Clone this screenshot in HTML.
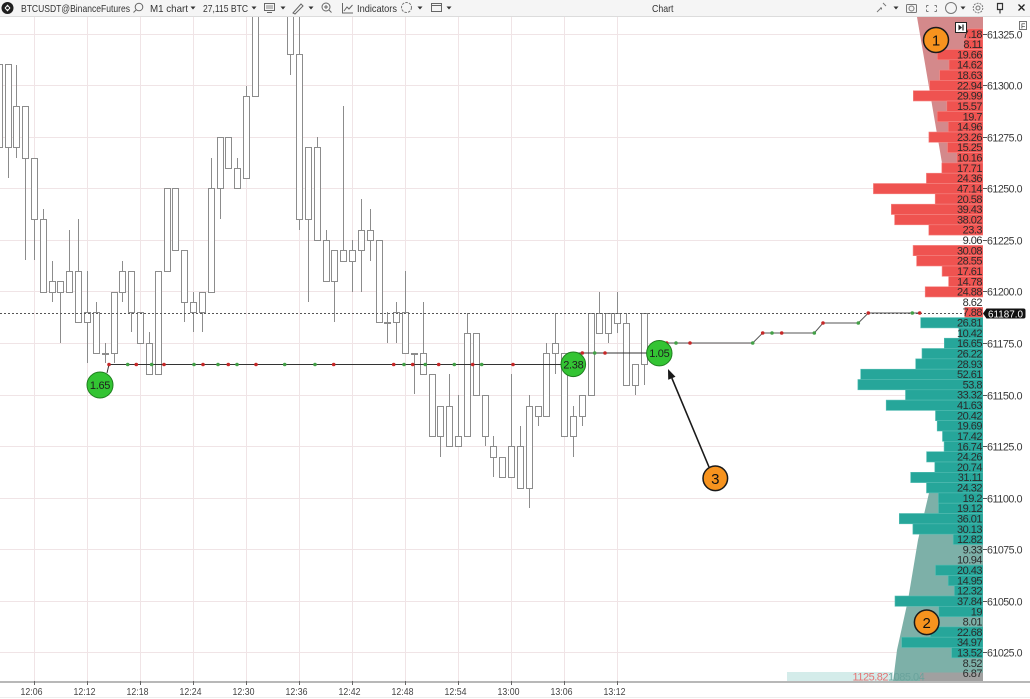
<!DOCTYPE html>
<html><head><meta charset="utf-8"><style>
html,body{margin:0;padding:0;background:#fff;width:1030px;height:699px;overflow:hidden}
svg{display:block;font-family:"Liberation Sans",Arial,sans-serif}
.pv{font-size:11px;letter-spacing:-0.5px;fill:#2b2b2b;text-anchor:end}
.pa{font-size:11px;letter-spacing:-0.5px;fill:#3a3a3a}
.tl{font-size:10.5px;fill:#444;text-anchor:middle}
.tb{font-size:10.5px;fill:#333}
</style></head><body>
<svg width="1030" height="699" viewBox="0 0 1030 699" xmlns="http://www.w3.org/2000/svg">
<rect width="1030" height="699" fill="#fff"/>
<!-- toolbar -->
<rect x="0" y="0" width="1030" height="16.5" fill="#f5f5f5"/>
<line x1="0" y1="16.5" x2="1030" y2="16.5" stroke="#dcdcdc"/>
<circle cx="7.5" cy="8" r="6" fill="#1f1f1f"/>
<path d="M4.5 8 L7.5 4.5 L10.5 8 L7.5 11.5 Z" fill="#fff"/>
<circle cx="7.5" cy="8" r="1.4" fill="#1f1f1f"/>
<text class="tb" x="21" y="12" textLength="109" lengthAdjust="spacingAndGlyphs">BTCUSDT@BinanceFutures</text>
<circle cx="139" cy="7" r="3.8" fill="none" stroke="#666" stroke-width="1"/>
<line x1="136.3" y1="9.7" x2="133.5" y2="12.5" stroke="#666"/>
<text class="tb" x="150" y="12" textLength="38" lengthAdjust="spacingAndGlyphs">M1 chart</text>
<g fill="#333">
<path d="M190.5 6.5h5l-2.5 3z"/><path d="M251.5 6.5h5l-2.5 3z"/><path d="M280.5 6.5h5l-2.5 3z"/>
<path d="M308.5 6.5h5l-2.5 3z"/><path d="M417.5 6.5h5l-2.5 3z"/><path d="M446.5 6.5h5l-2.5 3z"/>
<path d="M893.5 6.5h5l-2.5 3z"/><path d="M960.5 6.5h5l-2.5 3z"/>
</g>
<text class="tb" x="203" y="12" textLength="45" lengthAdjust="spacingAndGlyphs">27,115 BTC</text>
<rect x="264.5" y="3.5" width="10" height="7" fill="none" stroke="#666"/>
<line x1="267" y1="12.5" x2="272" y2="12.5" stroke="#666"/>
<line x1="266" y1="6" x2="273" y2="6" stroke="#888"/><line x1="266" y1="8" x2="273" y2="8" stroke="#888"/>
<path d="M293 13 L301 4 L303 6 L295 14 Z" fill="none" stroke="#666"/>
<circle cx="326" cy="7" r="4" fill="none" stroke="#666"/>
<line x1="324" y1="7" x2="328" y2="7" stroke="#666"/><line x1="326" y1="5" x2="326" y2="9" stroke="#666"/>
<line x1="329" y1="10" x2="331.5" y2="12.5" stroke="#666"/>
<path d="M342.5 3 V13 H353" fill="none" stroke="#666"/>
<path d="M344 11 L347 7 L349 9 L352.5 5" fill="none" stroke="#666"/>
<text class="tb" x="357" y="12" textLength="40" lengthAdjust="spacingAndGlyphs">Indicators</text>
<circle cx="406.5" cy="7.5" r="5" fill="none" stroke="#777" stroke-dasharray="2.5,1.2"/>
<rect x="431.5" y="3.5" width="10" height="8" fill="none" stroke="#666"/>
<line x1="431.5" y1="5.5" x2="441.5" y2="5.5" stroke="#666"/>
<text class="tb" x="652" y="12" textLength="21.5" lengthAdjust="spacingAndGlyphs" fill="#444">Chart</text>
<g stroke="#777" fill="none">
<path d="M877 12 L881 8 M880 8 h1.5 v1.5 M883 3 L886 6"/>
<circle cx="911.5" cy="8.5" r="2.5"/><rect x="906.5" y="4.5" width="10" height="8" rx="1"/>
<path d="M926.5 5.5 l2 0 M926.5 5.5 l0 2 M936.5 5.5 l-2 0 M936.5 5.5 l0 2 M926.5 11.5 l2 0 M926.5 11.5 l0 -2 M936.5 11.5 l-2 0 M936.5 11.5 l0 -2"/>
<circle cx="951" cy="8" r="5.5"/>
<circle cx="978" cy="8" r="4.8" stroke-dasharray="2,1"/><circle cx="978" cy="8" r="2"/>
</g>
<path d="M997.5 3.5 h5 v6 h-5 z M1000 9.5 v4" fill="none" stroke="#333" stroke-width="1.2"/>
<path d="M1018.5 4.5 l6 6 M1024.5 4.5 l-6 6" stroke="#222" stroke-width="1.3"/>

<defs><clipPath id="ca"><rect x="0" y="17" width="983" height="665"/></clipPath></defs>
<g clip-path="url(#ca)">
<!-- grid -->
<g stroke="#f0e4e6" stroke-width="1">
<line x1="0" x2="983" y1="34.5" y2="34.5"/><line x1="0" x2="983" y1="85.5" y2="85.5"/><line x1="0" x2="983" y1="137.5" y2="137.5"/>
<line x1="0" x2="983" y1="188.5" y2="188.5"/><line x1="0" x2="983" y1="240.5" y2="240.5"/><line x1="0" x2="983" y1="291.5" y2="291.5"/>
<line x1="0" x2="983" y1="343.5" y2="343.5"/><line x1="0" x2="983" y1="395.5" y2="395.5"/><line x1="0" x2="983" y1="446.5" y2="446.5"/>
<line x1="0" x2="983" y1="498.5" y2="498.5"/><line x1="0" x2="983" y1="549.5" y2="549.5"/><line x1="0" x2="983" y1="601.5" y2="601.5"/>
<line x1="0" x2="983" y1="652.5" y2="652.5"/>
<line y1="17" y2="682" x1="34.5" x2="34.5"/><line y1="17" y2="682" x1="87.5" x2="87.5"/><line y1="17" y2="682" x1="140.5" x2="140.5"/>
<line y1="17" y2="682" x1="193.5" x2="193.5"/><line y1="17" y2="682" x1="246.5" x2="246.5"/><line y1="17" y2="682" x1="299.5" x2="299.5"/>
<line y1="17" y2="682" x1="352.5" x2="352.5"/><line y1="17" y2="682" x1="405.5" x2="405.5"/><line y1="17" y2="682" x1="458.5" x2="458.5"/>
<line y1="17" y2="682" x1="511.5" x2="511.5"/><line y1="17" y2="682" x1="564.5" x2="564.5"/><line y1="17" y2="682" x1="617.5" x2="617.5"/>
</g>
<!-- profile backgrounds -->
<polygon points="917,17 983,17 983,163 942,163" fill="#d4898b"/>
<polygon points="929,493 983,493 983,682 893,682 897,650 908,600 918,540" fill="#7db0a8"/>
<!-- candles -->
<g stroke="#8c8c8c" stroke-width="1" fill="#fff">
<line x1="-0.5" y1="54" x2="-0.5" y2="157"/><rect x="-3.5" y="64.5" width="6" height="83"/>
<line x1="8.5" y1="64" x2="8.5" y2="178"/><rect x="5.5" y="64.5" width="6" height="83"/>
<line x1="16.5" y1="65" x2="16.5" y2="158"/><rect x="13.5" y="106.5" width="6" height="41"/>
<line x1="25.5" y1="106" x2="25.5" y2="260"/><rect x="22.5" y="106.5" width="6" height="52"/>
<line x1="34.5" y1="158" x2="34.5" y2="260"/><rect x="31.5" y="158.5" width="6" height="61"/>
<line x1="43.5" y1="209" x2="43.5" y2="292"/><rect x="40.5" y="219.5" width="6" height="73"/>
<line x1="52.5" y1="261" x2="52.5" y2="302"/><rect x="49.5" y="281.5" width="6" height="11"/>
<line x1="60.5" y1="281" x2="60.5" y2="343"/><rect x="57.5" y="281.5" width="6" height="11"/>
<line x1="69.5" y1="230" x2="69.5" y2="292"/><rect x="66.5" y="271.5" width="6" height="21"/>
<line x1="78.5" y1="219" x2="78.5" y2="322"/><rect x="75.5" y="271.5" width="6" height="51"/>
<line x1="87.5" y1="271" x2="87.5" y2="363"/><rect x="84.5" y="312.5" width="6" height="10"/>
<line x1="96.5" y1="302" x2="96.5" y2="353"/><rect x="93.5" y="312.5" width="6" height="41"/>
<line x1="105.5" y1="343" x2="105.5" y2="363"/><rect x="102.5" y="353.5" width="6" height="1"/>
<line x1="114.5" y1="292" x2="114.5" y2="363"/><rect x="111.5" y="292.5" width="6" height="61"/>
<line x1="122.5" y1="261" x2="122.5" y2="302"/><rect x="119.5" y="271.5" width="6" height="21"/>
<line x1="131.5" y1="271" x2="131.5" y2="332"/><rect x="128.5" y="271.5" width="6" height="41"/>
<rect x="137.5" y="312.5" width="6" height="31"/>
<line x1="149.5" y1="332" x2="149.5" y2="374"/><rect x="146.5" y="343.5" width="6" height="31"/>
<rect x="155.5" y="271.5" width="6" height="103"/>
<rect x="164.5" y="188.5" width="6" height="83"/>
<rect x="172.5" y="188.5" width="6" height="62"/>
<line x1="184.5" y1="250" x2="184.5" y2="322"/><rect x="181.5" y="250.5" width="6" height="52"/>
<line x1="193.5" y1="292" x2="193.5" y2="332"/><rect x="190.5" y="302.5" width="6" height="10"/>
<line x1="202.5" y1="292" x2="202.5" y2="332"/><rect x="199.5" y="292.5" width="6" height="20"/>
<line x1="211.5" y1="158" x2="211.5" y2="292"/><rect x="208.5" y="188.5" width="6" height="104"/>
<line x1="220.5" y1="137" x2="220.5" y2="219"/><rect x="217.5" y="137.5" width="6" height="51"/>
<rect x="225.5" y="137.5" width="6" height="31"/>
<line x1="237.5" y1="158" x2="237.5" y2="188"/><rect x="234.5" y="168.5" width="6" height="20"/>
<line x1="246.5" y1="86" x2="246.5" y2="178"/><rect x="243.5" y="96.5" width="6" height="82"/>
<rect x="252.5" y="5.5" width="6" height="91"/>
<line x1="290.5" y1="5" x2="290.5" y2="75"/><rect x="287.5" y="5.5" width="6" height="49"/>
<line x1="299.5" y1="5" x2="299.5" y2="230"/><rect x="296.5" y="54.5" width="6" height="165"/>
<line x1="308.5" y1="147" x2="308.5" y2="302"/><rect x="305.5" y="147.5" width="6" height="72"/>
<line x1="317.5" y1="137" x2="317.5" y2="240"/><rect x="314.5" y="147.5" width="6" height="93"/>
<line x1="326.5" y1="230" x2="326.5" y2="281"/><rect x="323.5" y="240.5" width="6" height="41"/>
<line x1="334.5" y1="250" x2="334.5" y2="322"/><rect x="331.5" y="250.5" width="6" height="31"/>
<line x1="343.5" y1="106" x2="343.5" y2="261"/><rect x="340.5" y="250.5" width="6" height="11"/>
<line x1="352.5" y1="240" x2="352.5" y2="292"/><rect x="349.5" y="250.5" width="6" height="11"/>
<line x1="361.5" y1="199" x2="361.5" y2="292"/><rect x="358.5" y="230.5" width="6" height="20"/>
<line x1="370.5" y1="209" x2="370.5" y2="261"/><rect x="367.5" y="230.5" width="6" height="10"/>
<rect x="376.5" y="240.5" width="6" height="82"/>
<line x1="387.5" y1="312" x2="387.5" y2="343"/><rect x="384.5" y="322.5" width="6" height="1"/>
<line x1="396.5" y1="302" x2="396.5" y2="343"/><rect x="393.5" y="312.5" width="6" height="10"/>
<line x1="405.5" y1="271" x2="405.5" y2="353"/><rect x="402.5" y="312.5" width="6" height="41"/>
<line x1="414.5" y1="353" x2="414.5" y2="394"/><rect x="411.5" y="353.5" width="6" height="1"/>
<line x1="423.5" y1="302" x2="423.5" y2="374"/><rect x="420.5" y="353.5" width="6" height="21"/>
<rect x="429.5" y="374.5" width="6" height="62"/>
<line x1="440.5" y1="406" x2="440.5" y2="457"/><rect x="437.5" y="406.5" width="6" height="30"/>
<line x1="449.5" y1="374" x2="449.5" y2="446"/><rect x="446.5" y="406.5" width="6" height="40"/>
<line x1="458.5" y1="395" x2="458.5" y2="446"/><rect x="455.5" y="436.5" width="6" height="10"/>
<line x1="467.5" y1="313" x2="467.5" y2="436"/><rect x="464.5" y="333.5" width="6" height="103"/>
<rect x="473.5" y="333.5" width="6" height="62"/>
<line x1="485.5" y1="395" x2="485.5" y2="446"/><rect x="482.5" y="395.5" width="6" height="41"/>
<line x1="493.5" y1="436" x2="493.5" y2="477"/><rect x="490.5" y="446.5" width="6" height="11"/>
<rect x="499.5" y="457.5" width="6" height="20"/>
<line x1="511.5" y1="374" x2="511.5" y2="477"/><rect x="508.5" y="446.5" width="6" height="31"/>
<line x1="520.5" y1="426" x2="520.5" y2="488"/><rect x="517.5" y="446.5" width="6" height="42"/>
<line x1="529.5" y1="395" x2="529.5" y2="508"/><rect x="526.5" y="406.5" width="6" height="82"/>
<line x1="538.5" y1="406" x2="538.5" y2="426"/><rect x="535.5" y="406.5" width="6" height="10"/>
<line x1="546.5" y1="343" x2="546.5" y2="416"/><rect x="543.5" y="353.5" width="6" height="63"/>
<line x1="555.5" y1="313" x2="555.5" y2="374"/><rect x="552.5" y="343.5" width="6" height="10"/>
<rect x="561.5" y="353.5" width="6" height="83"/>
<line x1="573.5" y1="406" x2="573.5" y2="457"/><rect x="570.5" y="416.5" width="6" height="20"/>
<line x1="582.5" y1="395" x2="582.5" y2="426"/><rect x="579.5" y="395.5" width="6" height="21"/>
<rect x="588.5" y="313.5" width="6" height="82"/>
<line x1="599.5" y1="292" x2="599.5" y2="333"/><rect x="596.5" y="313.5" width="6" height="20"/>
<line x1="608.5" y1="313" x2="608.5" y2="343"/><rect x="605.5" y="313.5" width="6" height="20"/>
<line x1="617.5" y1="292" x2="617.5" y2="333"/><rect x="614.5" y="313.5" width="6" height="10"/>
<line x1="626.5" y1="313" x2="626.5" y2="385"/><rect x="623.5" y="323.5" width="6" height="62"/>
<line x1="635.5" y1="364" x2="635.5" y2="395"/><rect x="632.5" y="364.5" width="6" height="21"/>
<line x1="644.5" y1="313" x2="644.5" y2="385"/><rect x="641.5" y="313.5" width="6" height="51"/>
</g>
<!-- current price dotted line -->
<line x1="0" y1="313.5" x2="983" y2="313.5" stroke="#555" stroke-width="1" stroke-dasharray="2,2"/>
<!-- profile bars -->
<g fill="#ef5350" stroke="#f58784" stroke-width="0.6">
<rect x="966.3" y="28.85" width="16.7" height="10.3"/>
<rect x="964.1" y="39.2" width="18.9" height="10.3"/>
<rect x="937.3" y="49.5" width="45.7" height="10.3"/>
<rect x="949" y="59.8" width="34" height="10.3"/>
<rect x="939.7" y="70.1" width="43.3" height="10.3"/>
<rect x="929.7" y="80.4" width="53.3" height="10.3"/>
<rect x="913.3" y="90.7" width="69.7" height="10.3"/>
<rect x="946.8" y="101" width="36.2" height="10.3"/>
<rect x="937.2" y="111.35" width="45.8" height="10.3"/>
<rect x="948.2" y="121.7" width="34.8" height="10.3"/>
<rect x="928.9" y="132" width="54.1" height="10.3"/>
<rect x="947.5" y="142.3" width="35.5" height="10.3"/>
<rect x="957" y="152.6" width="26" height="10.3"/>
<rect x="941.8" y="162.9" width="41.2" height="10.3"/>
<rect x="926.4" y="173.2" width="56.6" height="10.3"/>
<rect x="873.4" y="183.5" width="109.6" height="10.3"/>
<rect x="935.2" y="193.8" width="47.8" height="10.3"/>
<rect x="891.3" y="204.2" width="91.7" height="10.3"/>
<rect x="894.6" y="214.5" width="88.4" height="10.3"/>
<rect x="928.8" y="224.8" width="54.2" height="10.3"/>
<rect x="913.1" y="245.4" width="69.9" height="10.3"/>
<rect x="916.6" y="255.7" width="66.4" height="10.3"/>
<rect x="942.1" y="266" width="40.9" height="10.3"/>
<rect x="948.6" y="276.35" width="34.4" height="10.3"/>
<rect x="925.2" y="286.7" width="57.8" height="10.3"/>
<rect x="964.7" y="307.3" width="18.3" height="10.3"/>
</g>
<g fill="#26a69a" stroke="#55bdb3" stroke-width="0.6">
<rect x="920.7" y="317.6" width="62.3" height="10.3"/>
<rect x="958.8" y="327.9" width="24.2" height="10.3"/>
<rect x="944.3" y="338.2" width="38.7" height="10.3"/>
<rect x="922" y="348.5" width="61" height="10.3"/>
<rect x="915.7" y="358.85" width="67.3" height="10.3"/>
<rect x="860.7" y="369.2" width="122.3" height="10.3"/>
<rect x="857.9" y="379.5" width="125.1" height="10.3"/>
<rect x="905.5" y="389.8" width="77.5" height="10.3"/>
<rect x="886.2" y="400.1" width="96.8" height="10.3"/>
<rect x="935.5" y="410.4" width="47.5" height="10.3"/>
<rect x="937.2" y="420.7" width="45.8" height="10.3"/>
<rect x="942.5" y="431" width="40.5" height="10.3"/>
<rect x="944.1" y="441.35" width="38.9" height="10.3"/>
<rect x="926.6" y="451.7" width="56.4" height="10.3"/>
<rect x="934.8" y="462" width="48.2" height="10.3"/>
<rect x="910.7" y="472.3" width="72.3" height="10.3"/>
<rect x="926.5" y="482.6" width="56.5" height="10.3"/>
<rect x="938.4" y="492.9" width="44.6" height="10.3"/>
<rect x="938.5" y="503.2" width="44.5" height="10.3"/>
<rect x="899.3" y="513.5" width="83.7" height="10.3"/>
<rect x="912.9" y="523.85" width="70.1" height="10.3"/>
<rect x="953.2" y="534.2" width="29.8" height="10.3"/>
<rect x="935.5" y="565.1" width="47.5" height="10.3"/>
<rect x="948.2" y="575.4" width="34.8" height="10.3"/>
<rect x="954.4" y="585.7" width="28.6" height="10.3"/>
<rect x="895" y="596" width="88" height="10.3"/>
<rect x="938.8" y="606.35" width="44.2" height="10.3"/>
<rect x="930.3" y="626.9" width="52.7" height="10.3"/>
<rect x="901.7" y="637.2" width="81.3" height="10.3"/>
<rect x="951.6" y="647.5" width="31.4" height="10.3"/>
</g>
<!-- bottom summary strip -->
<rect x="787" y="672" width="106" height="10" fill="#d4ecea"/>
<rect x="920" y="672.5" width="63" height="9.5" fill="#a0a0a0"/>
<text x="888" y="680.5" font-size="11" letter-spacing="-0.5" fill="#e57373" text-anchor="end">1125.82</text>
<text x="888" y="680.5" font-size="11" letter-spacing="-0.5" fill="#6aa39c">1085.04</text>
<!-- step lines -->
<g stroke="#333" stroke-width="1" fill="none">
<line x1="107" y1="373" x2="109" y2="364.5"/>
<line x1="109" y1="364.5" x2="562" y2="364.5"/>
<line x1="573" y1="353" x2="648" y2="353"/>
</g>
<polyline points="659,343 752.7,343 762.7,333 814.3,333 823,323 858.3,323 868.3,313 919.7,313" fill="none" stroke="#555" stroke-width="1"/>
<g fill="#c62828">
<circle cx="109" cy="364.5" r="1.8"/><circle cx="136.3" cy="364.5" r="1.8"/><circle cx="164" cy="364.5" r="1.8"/>
<circle cx="203" cy="364.5" r="1.8"/><circle cx="228.3" cy="364.5" r="1.8"/><circle cx="256" cy="364.5" r="1.8"/>
<circle cx="333.7" cy="364.5" r="1.8"/><circle cx="393.7" cy="364.5" r="1.8"/><circle cx="412.7" cy="364.5" r="1.8"/>
<circle cx="438.7" cy="364.5" r="1.8"/><circle cx="472.7" cy="364.5" r="1.8"/><circle cx="513" cy="364.5" r="1.8"/>
<circle cx="582.3" cy="353" r="1.8"/><circle cx="605" cy="353" r="1.8"/>
<circle cx="666.7" cy="343" r="1.8"/><circle cx="690" cy="343" r="1.8"/>
<circle cx="762.7" cy="333" r="1.8"/><circle cx="781.7" cy="333" r="1.8"/>
<circle cx="823" cy="323" r="1.8"/><circle cx="868.3" cy="313" r="1.8"/><circle cx="919.7" cy="313" r="1.8"/>
</g>
<g fill="#43a047">
<circle cx="127.7" cy="364.5" r="1.8"/><circle cx="151.7" cy="364.5" r="1.8"/><circle cx="194" cy="364.5" r="1.8"/>
<circle cx="218" cy="364.5" r="1.8"/><circle cx="237" cy="364.5" r="1.8"/><circle cx="284.7" cy="364.5" r="1.8"/>
<circle cx="315" cy="364.5" r="1.8"/><circle cx="404" cy="364.5" r="1.8"/><circle cx="425.3" cy="364.5" r="1.8"/>
<circle cx="454.3" cy="364.5" r="1.8"/><circle cx="481.7" cy="364.5" r="1.8"/>
<circle cx="594.7" cy="353" r="1.8"/>
<circle cx="676" cy="343" r="1.8"/><circle cx="752.7" cy="343" r="1.8"/>
<circle cx="772" cy="333" r="1.8"/><circle cx="814.3" cy="333" r="1.8"/>
<circle cx="858.3" cy="323" r="1.8"/><circle cx="912.3" cy="313" r="1.8"/>
</g>
<!-- bubbles -->
<g fill="#33c433" stroke="#1f7f1f" stroke-width="1">
<circle cx="100" cy="385" r="13"/>
<circle cx="573.3" cy="364.3" r="12.3"/>
<circle cx="659.3" cy="353.2" r="12.7"/>
</g>
<g font-size="11" letter-spacing="-0.3" fill="#1e1e1e" text-anchor="middle">
<text x="100" y="389">1.65</text>
<text x="573.3" y="368.3">2.38</text>
<text x="659.3" y="357.2">1.05</text>
</g>
</g>
<!-- profile values -->
<g class="pv">
<text x="982" y="37.8" class="pv">7.18</text><text x="982" y="48.1" class="pv">8.11</text><text x="982" y="58.4" class="pv">19.66</text>
<text x="982" y="68.7" class="pv">14.62</text><text x="982" y="79.1" class="pv">18.63</text><text x="982" y="89.4" class="pv">22.94</text>
<text x="982" y="99.7" class="pv">29.99</text><text x="982" y="110" class="pv">15.57</text><text x="982" y="120.3" class="pv">19.7</text>
<text x="982" y="130.6" class="pv">14.96</text><text x="982" y="140.9" class="pv">23.26</text><text x="982" y="151.2" class="pv">15.25</text>
<text x="982" y="161.6" class="pv">10.16</text><text x="982" y="171.9" class="pv">17.71</text><text x="982" y="182.2" class="pv">24.36</text>
<text x="982" y="192.5" class="pv">47.14</text><text x="982" y="202.8" class="pv">20.58</text><text x="982" y="213.1" class="pv">39.43</text>
<text x="982" y="223.4" class="pv">38.02</text><text x="982" y="233.7" class="pv">23.3</text><text x="982" y="244.1" class="pv">9.06</text>
<text x="982" y="254.4" class="pv">30.08</text><text x="982" y="264.7" class="pv">28.55</text><text x="982" y="275" class="pv">17.61</text>
<text x="982" y="285.3" class="pv">14.78</text><text x="982" y="295.6" class="pv">24.88</text><text x="982" y="305.9" class="pv">8.62</text>
<text x="982" y="316.2" class="pv">7.88</text><text x="982" y="326.6" class="pv">26.81</text><text x="982" y="336.9" class="pv">10.42</text>
<text x="982" y="347.2" class="pv">16.65</text><text x="982" y="357.5" class="pv">26.22</text><text x="982" y="367.8" class="pv">28.93</text>
<text x="982" y="378.1" class="pv">52.61</text><text x="982" y="388.4" class="pv">53.8</text><text x="982" y="398.7" class="pv">33.32</text>
<text x="982" y="409.1" class="pv">41.63</text><text x="982" y="419.4" class="pv">20.42</text><text x="982" y="429.7" class="pv">19.69</text>
<text x="982" y="440" class="pv">17.42</text><text x="982" y="450.3" class="pv">16.74</text><text x="982" y="460.6" class="pv">24.26</text>
<text x="982" y="470.9" class="pv">20.74</text><text x="982" y="481.2" class="pv">31.11</text><text x="982" y="491.6" class="pv">24.32</text>
<text x="982" y="501.9" class="pv">19.2</text><text x="982" y="512.2" class="pv">19.12</text><text x="982" y="522.5" class="pv">36.01</text>
<text x="982" y="532.8" class="pv">30.13</text><text x="982" y="543.1" class="pv">12.82</text><text x="982" y="553.4" class="pv">9.33</text>
<text x="982" y="563.7" class="pv">10.94</text><text x="982" y="574.1" class="pv">20.43</text><text x="982" y="584.4" class="pv">14.95</text>
<text x="982" y="594.7" class="pv">12.32</text><text x="982" y="605" class="pv">37.84</text><text x="982" y="615.3" class="pv">19</text>
<text x="982" y="625.6" class="pv">8.01</text><text x="982" y="635.9" class="pv">22.68</text><text x="982" y="646.2" class="pv">34.97</text>
<text x="982" y="656.6" class="pv">13.52</text><text x="982" y="666.9" class="pv">8.52</text><text x="982" y="677.2" class="pv">6.87</text>
</g>
<!-- button -->
<rect x="955.5" y="22.5" width="11" height="10" fill="#fff" stroke="#222" stroke-width="1"/>
<path d="M958.5 24.5 L962 27.5 L958.5 30.5 Z" fill="#222"/><line x1="963" y1="24.5" x2="963" y2="30.5" stroke="#222" stroke-width="1.2"/>
<rect x="1019.5" y="21.5" width="7" height="8" fill="#fff" stroke="#555" stroke-width="0.8"/>
<text x="1021" y="28.3" font-size="7" fill="#333">F</text>
<!-- price axis -->
<g stroke="#555" stroke-width="1">
<line x1="983" x2="987" y1="34.5" y2="34.5"/><line x1="983" x2="987" y1="85.5" y2="85.5"/><line x1="983" x2="987" y1="137.5" y2="137.5"/>
<line x1="983" x2="987" y1="188.5" y2="188.5"/><line x1="983" x2="987" y1="240.5" y2="240.5"/><line x1="983" x2="987" y1="291.5" y2="291.5"/>
<line x1="983" x2="987" y1="343.5" y2="343.5"/><line x1="983" x2="987" y1="395.5" y2="395.5"/><line x1="983" x2="987" y1="446.5" y2="446.5"/>
<line x1="983" x2="987" y1="498.5" y2="498.5"/><line x1="983" x2="987" y1="549.5" y2="549.5"/><line x1="983" x2="987" y1="601.5" y2="601.5"/>
<line x1="983" x2="987" y1="652.5" y2="652.5"/>
</g>
<g class="pa">
<text x="987" y="38.5" textLength="35" lengthAdjust="spacingAndGlyphs">61325.0</text>
<text x="987" y="89.5" textLength="35" lengthAdjust="spacingAndGlyphs">61300.0</text>
<text x="987" y="141.5" textLength="35" lengthAdjust="spacingAndGlyphs">61275.0</text>
<text x="987" y="192.5" textLength="35" lengthAdjust="spacingAndGlyphs">61250.0</text>
<text x="987" y="244.5" textLength="35" lengthAdjust="spacingAndGlyphs">61225.0</text>
<text x="987" y="295.5" textLength="35" lengthAdjust="spacingAndGlyphs">61200.0</text>
<text x="987" y="347.5" textLength="35" lengthAdjust="spacingAndGlyphs">61175.0</text>
<text x="987" y="399.5" textLength="35" lengthAdjust="spacingAndGlyphs">61150.0</text>
<text x="987" y="450.5" textLength="35" lengthAdjust="spacingAndGlyphs">61125.0</text>
<text x="987" y="502.5" textLength="35" lengthAdjust="spacingAndGlyphs">61100.0</text>
<text x="987" y="553.5" textLength="35" lengthAdjust="spacingAndGlyphs">61075.0</text>
<text x="987" y="605.5" textLength="35" lengthAdjust="spacingAndGlyphs">61050.0</text>
<text x="987" y="656.5" textLength="35" lengthAdjust="spacingAndGlyphs">61025.0</text>
</g>
<path d="M983 313.5 L986.5 308.5 H1023.5 Q1025.5 308.5 1025.5 310.5 V316.5 Q1025.5 318.5 1023.5 318.5 H986.5 Z" fill="#111"/>
<text x="988" y="317.3" font-size="10.5" fill="#fff" textLength="35" lengthAdjust="spacingAndGlyphs">61187.0</text>
<!-- time axis -->
<line x1="0" y1="682" x2="1030" y2="682" stroke="#b8b8b8" stroke-width="2"/>
<g stroke="#666" stroke-width="1">
<line x1="34.5" x2="34.5" y1="681" y2="685"/><line x1="87.5" x2="87.5" y1="681" y2="685"/><line x1="140.5" x2="140.5" y1="681" y2="685"/>
<line x1="193.5" x2="193.5" y1="681" y2="685"/><line x1="246.5" x2="246.5" y1="681" y2="685"/><line x1="299.5" x2="299.5" y1="681" y2="685"/>
<line x1="352.5" x2="352.5" y1="681" y2="685"/><line x1="405.5" x2="405.5" y1="681" y2="685"/><line x1="458.5" x2="458.5" y1="681" y2="685"/>
<line x1="511.5" x2="511.5" y1="681" y2="685"/><line x1="564.5" x2="564.5" y1="681" y2="685"/><line x1="617.5" x2="617.5" y1="681" y2="685"/>
</g>
<g class="tl">
<text x="31.5" y="695" textLength="22" lengthAdjust="spacingAndGlyphs">12:06</text>
<text x="84.5" y="695" textLength="22" lengthAdjust="spacingAndGlyphs">12:12</text>
<text x="137.5" y="695" textLength="22" lengthAdjust="spacingAndGlyphs">12:18</text>
<text x="190.5" y="695" textLength="22" lengthAdjust="spacingAndGlyphs">12:24</text>
<text x="243.5" y="695" textLength="22" lengthAdjust="spacingAndGlyphs">12:30</text>
<text x="296.5" y="695" textLength="22" lengthAdjust="spacingAndGlyphs">12:36</text>
<text x="349.5" y="695" textLength="22" lengthAdjust="spacingAndGlyphs">12:42</text>
<text x="402.5" y="695" textLength="22" lengthAdjust="spacingAndGlyphs">12:48</text>
<text x="455.5" y="695" textLength="22" lengthAdjust="spacingAndGlyphs">12:54</text>
<text x="508.5" y="695" textLength="22" lengthAdjust="spacingAndGlyphs">13:00</text>
<text x="561.5" y="695" textLength="22" lengthAdjust="spacingAndGlyphs">13:06</text>
<text x="614.5" y="695" textLength="22" lengthAdjust="spacingAndGlyphs">13:12</text>
</g>
<line x1="0" y1="697.5" x2="1030" y2="697.5" stroke="#eee"/>
<!-- annotations -->
<line x1="709" y1="467" x2="671.9" y2="378.2" stroke="#1a1a1a" stroke-width="1.6"/>
<polygon points="668,369 675.5,376.7 668.2,379.8" fill="#1a1a1a"/>
<g fill="#f7931e" stroke="#1a1a1a" stroke-width="1.5">
<circle cx="936" cy="40" r="12.5"/>
<circle cx="926.7" cy="622.3" r="12.3"/>
<circle cx="715.3" cy="478.3" r="12.3"/>
</g>
<g font-size="15" fill="#111" text-anchor="middle">
<text x="936" y="45.5">1</text>
<text x="926.7" y="627.8">2</text>
<text x="715.3" y="483.8">3</text>
</g>
</svg>
</body></html>
